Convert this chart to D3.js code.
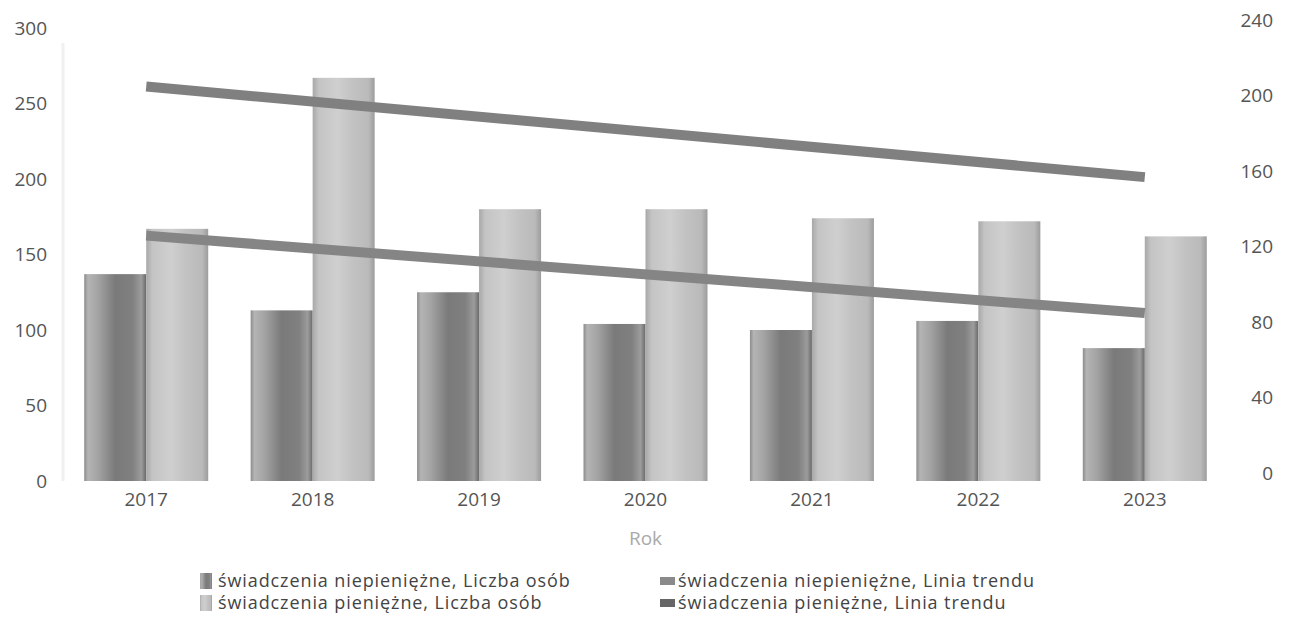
<!DOCTYPE html>
<html>
<head>
<meta charset="utf-8">
<script src="https://cdn.jsdelivr.net/npm/d3@7"></script>
<style>
  body { margin: 0; background: #fff; }
  text { font-family: "Open Sans", "Noto Sans", sans-serif; }
</style>
</head>
<body>
<svg width="1294" height="624"></svg>
<script>
const years = ["2017", "2018", "2019", "2020", "2021", "2022", "2023"];
const niepieniezne = [137, 113, 125, 104, 100, 106, 88];
const pieniezne = [167, 267, 180, 180, 174, 172, 162];
// trend lines on right axis: [start, end]
const trendNiepieniezne = [130, 89];
const trendPieniezne = [209, 161];
const leftTicks = [0, 50, 100, 150, 200, 250, 300];
const rightTicks = [0, 40, 80, 120, 160, 200, 240];
const legendLabels = [
  "świadczenia niepieniężne, Liczba osób",
  "świadczenia pieniężne, Liczba osób",
  "świadczenia niepieniężne, Linia trendu",
  "świadczenia pieniężne, Linia trendu"
];

const svg = d3.select("svg");
const margin = {left: 63, right: 66, top: 28, bottom: 143};
const W = +svg.attr("width"), H = +svg.attr("height");
const plotBottom = H - margin.bottom;

const defs = svg.append("defs");
function grad(id, stops) {
  const g = defs.append("linearGradient").attr("id", id)
    .attr("x1", "0%").attr("x2", "100%").attr("y1", "0%").attr("y2", "0%");
  stops.forEach(s => g.append("stop").attr("offset", s[0]).attr("stop-color", s[1]));
}
grad("darkBar", [["0%", "#8c8c8c"], ["6%", "#b4b4b4"], ["22%", "#a4a4a4"], ["50%", "#7a7a7a"], ["78%", "#808080"], ["92%", "#9c9c9c"], ["100%", "#6a6a6a"]]);
grad("lightBar", [["0%", "#a8a8a8"], ["10%", "#c4c4c4"], ["40%", "#cfcfcf"], ["65%", "#c2c2c2"], ["90%", "#bababa"], ["100%", "#9c9c9c"]]);

const x = d3.scaleBand().domain(years)
  .range([margin.left, W - margin.right])
  .paddingInner(0.255).paddingOuter(0.1275);
const xs = d3.scaleBand().domain(["n", "p"]).range([0, x.bandwidth()]);
const yL = d3.scaleLinear().domain([0, 300]).range([plotBottom, margin.top]);
const yR = d3.scaleLinear().domain([0, 240]).range([plotBottom, margin.top]);

// faint left plot edge
svg.append("line")
  .attr("x1", margin.left).attr("x2", margin.left)
  .attr("y1", yL(290)).attr("y2", plotBottom)
  .attr("stroke", "#f0f0f0").attr("stroke-width", 3);

// left axis
const axL = svg.append("g").attr("transform", `translate(${margin.left - 16},0)`)
  .call(d3.axisLeft(yL).tickValues(leftTicks).tickSize(0).tickPadding(0));
axL.select(".domain").remove();
axL.selectAll("text").attr("font-size", 19).attr("fill", "#555");

// right axis (scan is offset a few px upward)
const axR = svg.append("g").attr("transform", `translate(${W - 21},-8)`)
  .call(d3.axisLeft(yR).tickValues(rightTicks).tickSize(0).tickPadding(0));
axR.select(".domain").remove();
axR.selectAll("text").attr("font-size", 19).attr("fill", "#555");

// bars
const groups = svg.append("g").selectAll("g").data(years).join("g")
  .attr("transform", d => `translate(${x(d)},0)`);
groups.append("rect")
  .attr("x", xs("n")).attr("width", xs.bandwidth())
  .attr("y", (d, i) => yL(niepieniezne[i]))
  .attr("height", (d, i) => plotBottom - yL(niepieniezne[i]))
  .attr("fill", "url(#darkBar)");
groups.append("rect")
  .attr("x", xs("p")).attr("width", xs.bandwidth())
  .attr("y", (d, i) => yL(pieniezne[i]))
  .attr("height", (d, i) => plotBottom - yL(pieniezne[i]))
  .attr("fill", "url(#lightBar)");

// trend lines
const first = years[0], last = years[years.length - 1];
const cx = d => x(d) + x.bandwidth() / 2;
[[trendPieniezne, "#808080"], [trendNiepieniezne, "#858585"]].forEach(([t, c]) => {
  svg.append("line")
    .attr("x1", cx(first)).attr("x2", cx(last))
    .attr("y1", yR(t[0])).attr("y2", yR(t[1]))
    .attr("stroke", c).attr("stroke-width", 10);
});

// x axis labels
const axX = svg.append("g").attr("transform", `translate(0,${plotBottom + 11})`)
  .call(d3.axisBottom(x).tickSize(0).tickPadding(0));
axX.select(".domain").remove();
axX.selectAll("text").attr("font-size", 19).attr("fill", "#555");

svg.append("text")
  .attr("x", (margin.left + W - margin.right) / 2).attr("y", 545)
  .attr("text-anchor", "middle").attr("font-size", 19).attr("fill", "#aaa")
  .text("Rok");

// legend
const leg = svg.append("g");
const legPos = [[200, 581], [200, 603], [660, 581], [660, 603]];
legendLabels.forEach((lab, i) => {
  const [lx, ly] = legPos[i];
  if (i < 2) {
    leg.append("rect").attr("x", lx).attr("y", ly - 8).attr("width", 12).attr("height", 16)
      .attr("fill", i === 0 ? "url(#darkBar)" : "url(#lightBar)");
  } else {
    leg.append("rect").attr("x", lx).attr("y", ly - 4).attr("width", 15).attr("height", 8)
      .attr("fill", i === 2 ? "#8a8a8a" : "#666");
  }
  leg.append("text").attr("x", lx + 18).attr("y", ly).attr("dy", "0.35em")
    .attr("font-size", 18).attr("letter-spacing", 0.9).attr("fill", "#444").text(lab);
});
</script>
</body>
</html>
